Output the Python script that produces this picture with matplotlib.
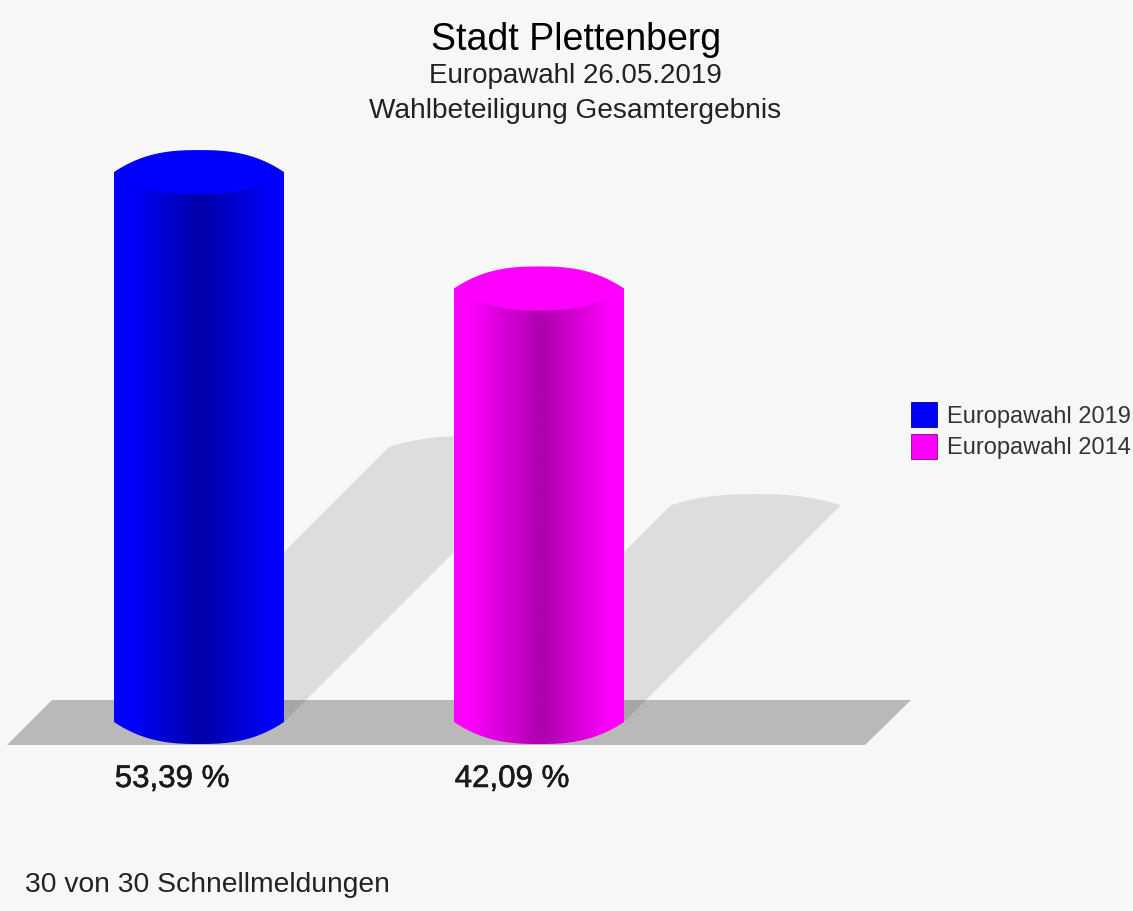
import numpy as np
import matplotlib
matplotlib.use("Agg")
import matplotlib.pyplot as plt
import matplotlib.patheffects as pe
from matplotlib.patches import Patch, Polygon
from matplotlib.path import Path

# Data
series = ["Europawahl 2019", "Europawahl 2014"]
values = [53.39, 42.09]
colors_bright = [(0, 0, 255), (255, 0, 255)]
colors_dark = [(0, 0, 170), (176, 0, 176)]
title_lines = ["Stadt Plettenberg", "Europawahl 26.05.2019", "Wahlbeteiligung Gesamtergebnis"]
footer = "30 von 30 Schnellmeldungen"

W, H = 1133, 911
BG = "#f7f7f7"

# pixel scale of the value axis: one category = 340 px, one percent = 10.3 px
px_cat = 340.0
px_val = 10.3
x0_px, y0_px = 199.0, 722.0


def xd(px):
    return (px - x0_px) / px_cat


def yd(py):
    return (y0_px - py) / px_val


half_w = 85 / px_cat
cap_h = 22 / px_val

# rim of the cylinder, a bit flatter at the sides than a true ellipse
u = np.linspace(-1, 1, 121)
rim = 1 - np.abs(u) ** 2.6

plt.rcParams["font.family"] = ["Liberation Sans", "DejaVu Sans"]
fig = plt.figure(figsize=(W / 100, H / 100), dpi=100, facecolor=BG)
ax = fig.add_axes([0, 0, 1, 1])
ax.set_axis_off()

# floor
floor = Polygon([(xd(7), yd(745)), (xd(865), yd(745)), (xd(911), yd(700)), (xd(52), yd(700))],
                closed=True, fc="black", alpha=0.25, ec="none", zorder=1)
ax.add_patch(floor)

for i, v in enumerate(values):
    # shadow: sheared 45 degrees, half the bar height
    dx = v * px_val * 0.5 / px_cat
    dy = v * 0.5
    xs = np.r_[i - half_w, i + dx + half_w * u, i + half_w]
    ys = np.r_[0, dy + cap_h * 0.5 * rim, 0]
    ax.add_patch(Polygon(np.c_[xs, ys], closed=True, fc="black", alpha=0.1, ec="none", zorder=2))

for i, v in enumerate(values):
    # body with horizontal gradient, clipped to the cylinder outline
    g = np.linspace(0, 1, 256)
    fade = np.interp(g, [0, 0.08, 0.5, 0.54, 0.93, 1], [0, 0, 1, 1, 0, 0])
    bright = np.array(colors_bright[i]) / 255
    dark = np.array(colors_dark[i]) / 255
    img = bright[None, :] * (1 - fade[:, None]) + dark[None, :] * fade[:, None]
    im = ax.imshow(img[None, :, :], extent=[i - half_w, i + half_w, -cap_h, v],
                   aspect="auto", zorder=3, interpolation="bilinear")
    outline = np.c_[i + half_w * u, -cap_h * rim]
    outline = np.vstack([outline, [i + half_w, v], [i - half_w, v], outline[0]])
    im.set_clip_path(Path(outline), transform=ax.transData)
    # top cap
    cap = np.c_[np.r_[i + half_w * u, i + half_w * u[::-1]],
                np.r_[v + cap_h * rim, v - cap_h * rim[::-1]]]
    ax.add_patch(Polygon(cap, closed=True, fc=bright, ec="none", zorder=4))
    # value label
    label = f"{v:.2f}".replace(".", ",") + " %"
    ax.text(i - 27 / px_cat, yd(787), label, ha="center", va="baseline", fontsize=22.5,
            color="#1a1a1a", zorder=5,
            path_effects=[pe.withStroke(linewidth=0.4, foreground="#1a1a1a")])

ax.set_xlim(xd(0), xd(W))
ax.set_ylim(yd(H), yd(0))

# titles
ax.text(xd(576), yd(50), title_lines[0], ha="center", va="baseline", fontsize=27, color="black")
ax.text(xd(575), yd(83), title_lines[1], ha="center", va="baseline", fontsize=20, color="#222222")
ax.text(xd(575), yd(118), title_lines[2], ha="center", va="baseline", fontsize=20.2, color="#222222")
ax.text(xd(25), yd(892), footer, ha="left", va="baseline", fontsize=20.3, color="#222222")

# legend
handles = [Patch(fc=np.array(colors_bright[i]) / 255, ec=np.array(colors_dark[i]) / 255 * 0.8,
                 lw=0.6, label=series[i]) for i in range(len(series))]
fs = 17
leg = ax.legend(handles=handles, loc="upper left", bbox_to_anchor=(911 / W, 1 - 402 / H),
                frameon=False, fontsize=fs, borderpad=0, borderaxespad=0,
                handlelength=19 / fs, handleheight=21.6 / fs, handletextpad=0.42,
                labelspacing=4.3 / fs, labelcolor="#333333")

fig.savefig("out.png", dpi=100, facecolor=BG)
